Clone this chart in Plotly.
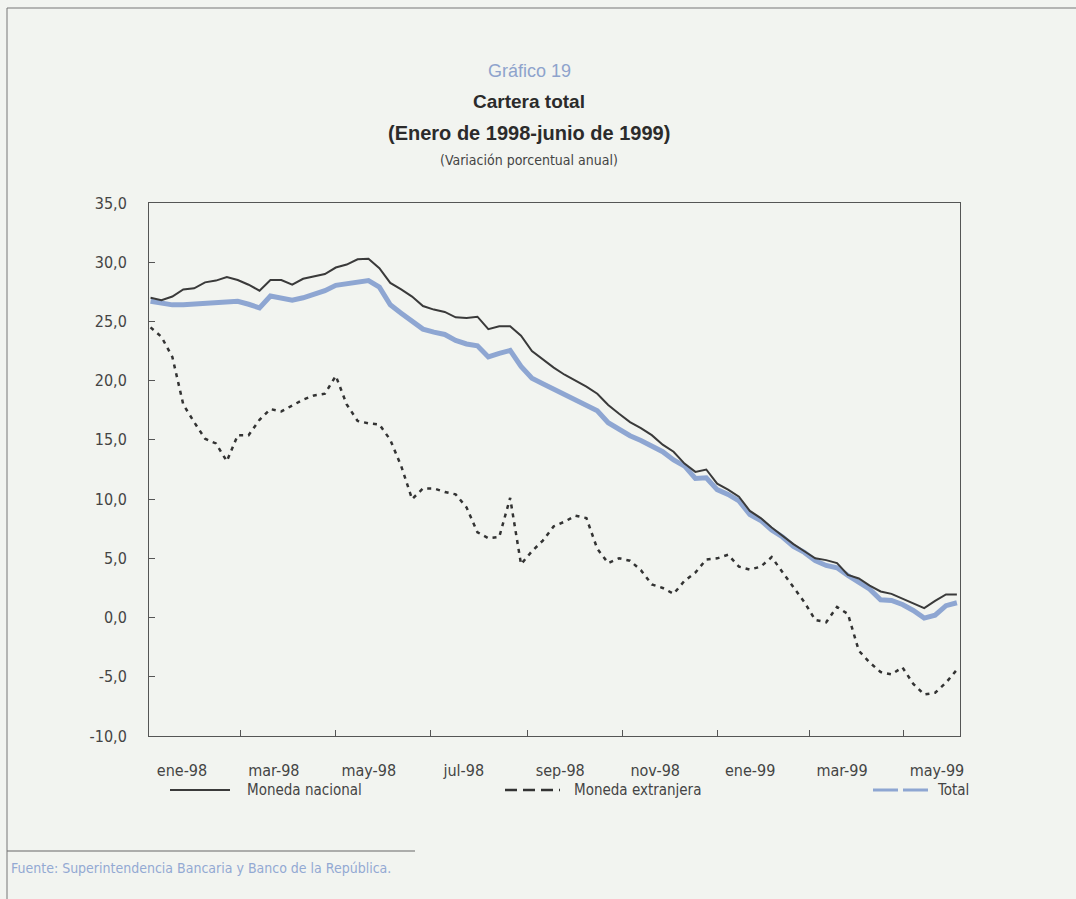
import datetime as dt
import plotly.graph_objects as go

# ---- data (weekly observations, Jan 1998 - Jun 1999) ----
start_date = dt.date(1998, 1, 2)
n_weeks = 75
dates = [(start_date + dt.timedelta(days=7 * k)).isoformat() for k in range(n_weeks)]

moneda_nacional = [
    27.0, 26.8, 27.1, 27.7, 27.8, 28.3, 28.45, 28.75, 28.5, 28.1,
    27.6, 28.5, 28.5, 28.1, 28.6, 28.8, 29.0, 29.55, 29.8, 30.25,
    30.3, 29.5, 28.25, 27.7, 27.1, 26.3, 26.0, 25.8, 25.35, 25.3,
    25.4, 24.35, 24.6, 24.6, 23.8, 22.5, 21.8, 21.1, 20.5, 20.0,
    19.5, 18.9, 17.95, 17.2, 16.5, 16.0, 15.4, 14.6, 14.0, 13.0,
    12.3, 12.5, 11.3, 10.8, 10.2, 9.0, 8.4, 7.6, 6.9, 6.2,
    5.6, 5.0, 4.85, 4.6, 3.6, 3.3, 2.7, 2.2, 2.0, 1.6,
    1.2, 0.8, 1.4, 1.95, 1.95,
]

total = [
    26.7, 26.5, 26.4, 26.4, 26.45, 26.6, 26.65, 26.7, 26.7, 26.45,
    26.15, 27.15, 27.0, 26.8, 27.0, 27.3, 27.6, 28.05, 28.2, 28.35,
    28.45, 27.9, 26.4, 25.7, 25.0, 24.35, 24.1, 23.9, 23.4, 23.1,
    22.95, 22.0, 22.3, 22.55, 21.2, 20.2, 19.75, 19.3, 18.85, 18.4,
    18.0, 17.45, 16.45, 15.85, 15.35, 14.95, 14.5, 14.0, 13.3, 12.8,
    11.75, 11.8, 10.8, 10.4, 9.85, 8.7, 8.2, 7.4, 6.8, 6.0,
    5.5, 4.8, 4.4, 4.2, 3.55, 3.0, 2.4, 1.5, 1.45, 1.1,
    0.6, -0.05, 0.2, 1.0, 1.25,
]

moneda_extranjera = [
    24.5, 23.7, 22.0, 18.0, 16.5, 15.1, 14.7, 13.2, 15.4, 15.4,
    16.7, 17.6, 17.4, 17.9, 18.4, 18.75, 18.9, 20.4, 18.0, 16.6,
    16.4, 16.3, 15.0, 12.8, 10.0, 10.9, 10.9, 10.6, 10.4, 9.3,
    7.2, 6.7, 6.8, 10.1, 4.5, 5.6, 6.5, 7.7, 8.1, 8.6,
    8.4, 5.8, 4.6, 5.0, 4.8, 4.0, 2.8, 2.5, 2.0, 3.1,
    3.8, 4.9, 5.0, 5.3, 4.3, 4.05, 4.3, 5.1, 3.8, 2.6,
    1.3, -0.2, -0.4, 0.9, 0.3, -2.8, -3.8, -4.6, -4.8, -4.2,
    -5.6, -6.5, -6.35, -5.5, -4.4,
]

tick_dates = ["1998-01-01", "1998-03-01", "1998-05-01", "1998-07-01", "1998-09-01",
              "1998-11-01", "1999-01-01", "1999-03-01", "1999-05-01"]
tick_labels = ["ene-98", "mar-98", "may-98", "jul-98", "sep-98",
               "nov-98", "ene-99", "mar-99", "may-99"]
x_range = ["1998-01-01", "1999-06-06"]

y_tick_values = [-10, -5, 0, 5, 10, 15, 20, 25, 30, 35]
y_tick_labels = ["-10,0", "-5,0", "0,0", "5,0", "10,0", "15,0", "20,0", "25,0", "30,0", "35,0"]

series_names = ["Moneda nacional", "Moneda extranjera", "Total"]

# ---- layout geometry (page pixels; body margin removed below) ----
W, H = 1076, 899
L, R, T, B = 149, 960, 203, 736
PW, PH = R - L, B - T

def px(x):
    return (x - L) / PW

def py(y):
    return (B - y) / PH

BG = "#f2f4f0"
DARK = "#3a3a3a"
BLUE = "#8ea6d2"
NARROW = "Liberation Sans Narrow, DejaVu Sans Condensed, Arial Narrow, sans-serif"
SANS = "Liberation Sans, Arial, sans-serif"

fig = go.Figure()
fig.add_trace(go.Scatter(x=dates, y=total, mode="lines", name=series_names[2],
                         line=dict(color=BLUE, width=5), showlegend=False))
fig.add_trace(go.Scatter(x=dates, y=moneda_extranjera, mode="lines", name=series_names[1],
                         line=dict(color="#333333", width=2.5, dash="4px,5px"), showlegend=False))
fig.add_trace(go.Scatter(x=dates, y=moneda_nacional, mode="lines", name=series_names[0],
                         line=dict(color=DARK, width=2), showlegend=False))

fig.update_layout(
    width=W, height=H,
    margin=dict(l=L, r=W - R, t=T, b=H - B, pad=0),
    paper_bgcolor=BG, plot_bgcolor=BG,
    showlegend=False,
    font=dict(family=NARROW, color="#444444", size=15),
)
fig.update_xaxes(
    type="date", range=x_range,
    tickvals=tick_dates, ticktext=tick_labels,
    ticks="inside", ticklen=6, tickcolor="#555555", tickwidth=1,
    ticklabelshift=33, ticklabelstandoff=20,
    showgrid=False, zeroline=False,
    showline=True, linecolor="#555555", linewidth=1, mirror=True,
    tickfont=dict(family=NARROW, size=16, color="#444444"),
)
fig.update_yaxes(
    range=[-10, 35], tickvals=y_tick_values, ticktext=y_tick_labels,
    ticks="inside", ticklen=6, tickcolor="#555555", tickwidth=1,
    ticklabelstandoff=18,
    showgrid=False, zeroline=False,
    showline=True, linecolor="#555555", linewidth=1, mirror=True,
    tickfont=dict(family=NARROW, size=16, color="#444444"),
)

ann = []
def text(x, y, s, size, color, family, bold=False, xanchor="center"):
    ann.append(dict(x=px(x), y=py(y), xref="paper", yref="paper", showarrow=False,
                    text=f"<b>{s}</b>" if bold else s, xanchor=xanchor, yanchor="middle",
                    font=dict(size=size, color=color, family=family)))

text(529, 71, "Gráfico 19", 18, "#8ea3cc", SANS)
text(529, 102, "Cartera total", 19, "#2b2b2b", SANS, bold=True)
text(529, 133, "(Enero de 1998-junio de 1999)", 20, "#2b2b2b", SANS, bold=True)
text(529, 160, "(Variación porcentual anual)", 14, "#444444", NARROW)
text(9, 868, "Fuente: Superintendencia Bancaria y Banco de la República.", 14, "#93a9d3", NARROW, xanchor="left")

legend_y = 790
text(245, legend_y, series_names[0], 15, "#444444", NARROW, xanchor="left")
text(572, legend_y, series_names[1], 15, "#444444", NARROW, xanchor="left")
text(935, legend_y, series_names[2], 15, "#444444", NARROW, xanchor="left")
fig.update_layout(annotations=ann)

shapes = []
def seg(x0, x1, y, color, width, dash="solid"):
    shapes.append(dict(type="line", xref="paper", yref="paper",
                       x0=px(x0), x1=px(x1), y0=py(y), y1=py(y),
                       line=dict(color=color, width=width, dash=dash)))

seg(170, 230, legend_y, DARK, 2)
seg(505, 560, legend_y, "#333333", 2.5, "12px,6px")
seg(873, 898, legend_y, BLUE, 3)
seg(903, 928, legend_y, BLUE, 3)
# page frame and source rule
seg(7, 415, 851, "#666666", 1)
seg(7, 1076, 8, "#777777", 1)
shapes.append(dict(type="line", xref="paper", yref="paper",
                   x0=px(7), x1=px(7), y0=py(8), y1=py(899),
                   line=dict(color="#777777", width=1)))
fig.update_layout(shapes=shapes)

fig.write_html(
    "out.html",
    config={"displayModeBar": False},
    post_script="document.body.style.margin='0';document.body.style.background='%s';"
                "document.body.style.overflow='hidden';" % BG,
)
